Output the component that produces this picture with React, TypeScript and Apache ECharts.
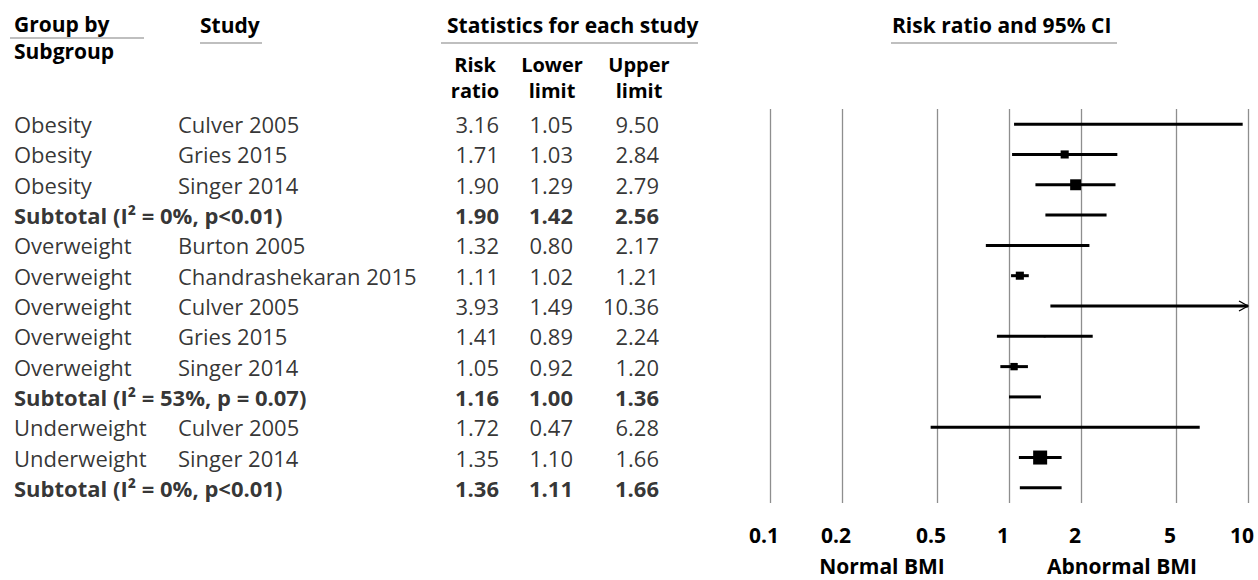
import React, { useEffect, useRef } from "react";
import * as echarts from "echarts";

const groupLabels = [
  "Obesity", "Obesity", "Obesity", "Subtotal (I² = 0%, p<0.01)",
  "Overweight", "Overweight", "Overweight", "Overweight", "Overweight", "Subtotal (I² = 53%, p = 0.07)",
  "Underweight", "Underweight", "Subtotal (I² = 0%, p<0.01)",
];
const studyLabels = [
  "Culver 2005", "Gries 2015", "Singer 2014", "",
  "Burton 2005", "Chandrashekaran 2015", "Culver 2005", "Gries 2015", "Singer 2014", "",
  "Culver 2005", "Singer 2014", "",
];
const subtotalRows = [false, false, false, true, false, false, false, false, false, true, false, false, true];
const riskRatio = [3.16, 1.71, 1.90, 1.90, 1.32, 1.11, 3.93, 1.41, 1.05, 1.16, 1.72, 1.35, 1.36];
const lowerLimit = [1.05, 1.03, 1.29, 1.42, 0.80, 1.02, 1.49, 0.89, 0.92, 1.00, 0.47, 1.10, 1.11];
const upperLimit = [9.50, 2.84, 2.79, 2.56, 2.17, 1.21, 10.36, 2.24, 1.20, 1.36, 6.28, 1.66, 1.66];
// relative study weights (drive marker size); subtotals have no marker
const studyWeight = [0.2, 6, 11, 0, 0.3, 6, 0.1, 0.4, 5, 0, 0.1, 18, 0];
const xTickValues = [0.1, 0.2, 0.5, 1, 2, 5, 10];
const favourLabels = ["Normal BMI", "Abnormal BMI"];
const headerTexts = ["Group by", "Subgroup", "Study", "Statistics for each study", "Risk ratio and 95% CI"];
const statHeaders = ["Risk\nratio", "Lower\nlimit", "Upper\nlimit"];

const FONT = "'Open Sans', sans-serif";
const FS = 22;
const HFS = 21;

export default function App() {
  const ref = useRef<HTMLDivElement>(null);
  useEffect(() => {
    const chart = echarts.init(ref.current!, null, { renderer: "svg" });
    const rows = riskRatio.map((_, i) => String(i));
    const xMin = xTickValues[0];
    const xMax = xTickValues[xTickValues.length - 1];
    const gridTop = 109;
    const gridHeight = 394;

    const fmt = (v: number) => v.toFixed(2);
    const tableCols: { x: number; pos: "left" | "right"; text: (i: number) => string }[] = [
      { x: 14, pos: "right", text: (i) => groupLabels[i] },
      { x: 178, pos: "right", text: (i) => studyLabels[i] },
      { x: 499, pos: "left", text: (i) => fmt(riskRatio[i]) },
      { x: 573, pos: "left", text: (i) => fmt(lowerLimit[i]) },
      { x: 659, pos: "left", text: (i) => fmt(upperLimit[i]) },
    ];

    const tableSeries = tableCols.map((c) => ({
      type: "scatter",
      xAxisIndex: 1,
      yAxisIndex: 1,
      silent: true,
      symbolSize: 0.01,
      itemStyle: { color: "rgba(0,0,0,0)" },
      data: rows
        .map((_, i) => ({
          value: [c.x, i],
          name: c.text(i),
          label: { fontWeight: subtotalRows[i] ? "bold" : "normal" },
        }))
        .filter((d) => d.name !== ""),
      label: {
        show: true,
        position: c.pos,
        distance: 0,
        color: "#000",
        fontFamily: FONT,
        fontSize: FS,
        formatter: (p: any) => p.name,
      },
    }));

    const headerStyle = { fill: "#000", font: `bold ${HFS}px ${FONT}` };
    const uline = (x1: number, x2: number, y: number) => ({
      type: "line",
      shape: { x1, y1: y, x2, y2: y },
      style: { stroke: "#aaa", lineWidth: 1.5 },
    });

    const graphics: any[] = [
      { type: "text", x: 14, y: 24, style: { ...headerStyle, text: headerTexts[0], verticalAlign: "middle" } },
      { type: "text", x: 14, y: 51, style: { ...headerStyle, text: headerTexts[1], verticalAlign: "middle" } },
      uline(10, 144, 38),
      { type: "text", x: 200, y: 25, style: { ...headerStyle, text: headerTexts[2], verticalAlign: "middle" } },
      uline(200, 262, 43),
      { type: "text", x: 447, y: 25, style: { ...headerStyle, text: headerTexts[3], verticalAlign: "middle" } },
      uline(441, 698, 43),
      { type: "text", x: 892, y: 25, style: { ...headerStyle, text: headerTexts[4], verticalAlign: "middle" } },
      uline(891, 1117, 43),
    ];
    const statCenters = [475, 552, 639];
    statHeaders.forEach((t, k) => {
      graphics.push({
        type: "text",
        x: statCenters[k],
        y: 77,
        style: {
          fill: "#000",
          font: `bold 20px ${FONT}`,
          text: t,
          align: "center",
          verticalAlign: "middle",
          lineHeight: 26,
        },
      });
    });
    const favourCenters = [882, 1122];
    favourLabels.forEach((t, k) => {
      graphics.push({
        type: "text",
        x: favourCenters[k],
        y: 566,
        style: { ...headerStyle, text: t, align: "center", verticalAlign: "middle" },
      });
    });

    chart.setOption({
      animation: false,
      backgroundColor: "#fff",
      grid: [
        { left: 770, right: 10, top: gridTop, height: gridHeight },
        { left: 0, width: 740, top: gridTop, height: gridHeight },
      ],
      xAxis: [
        {
          type: "log",
          gridIndex: 0,
          logBase: 10,
          min: xMin,
          max: xMax,
          axisLine: { show: false },
          axisTick: { show: false, customValues: xTickValues },
          splitLine: { show: true, lineStyle: { color: "#8e8e8e", width: 1.3 } },
          axisLabel: {
            customValues: xTickValues,
            formatter: (v: number) => String(+v.toPrecision(3)),
            color: "#000",
            fontFamily: FONT,
            fontWeight: "bold",
            fontSize: HFS,
            margin: 21,
            padding: [0, 12, 0, 0],
          },
        },
        { type: "value", gridIndex: 1, min: 0, max: 740, show: false },
      ],
      yAxis: [
        { type: "category", gridIndex: 0, data: rows, inverse: true, show: false },
        { type: "category", gridIndex: 1, data: rows, inverse: true, show: false },
      ],
      graphic: graphics,
      series: [
        ...tableSeries,
        {
          type: "custom",
          xAxisIndex: 0,
          yAxisIndex: 0,
          silent: true,
          data: lowerLimit.map((lo, i) => [lo, upperLimit[i], i]),
          encode: { x: [0, 1], y: 2 },
          renderItem: (_params: any, api: any) => {
            const lo = api.value(0);
            const hi = api.value(1);
            const row = api.value(2);
            const clipped = hi > xMax;
            const p1 = api.coord([lo, row]);
            const p2 = api.coord([clipped ? xMax : hi, row]);
            const children: any[] = [
              {
                type: "line",
                shape: { x1: p1[0], y1: p1[1], x2: p2[0], y2: p2[1] },
                style: { stroke: "#000", lineWidth: 3 },
              },
            ];
            if (clipped) {
              children.push({
                type: "polyline",
                shape: { points: [[p2[0] - 9, p2[1] - 5], [p2[0], p2[1]], [p2[0] - 9, p2[1] + 5]] },
                style: { stroke: "#000", fill: "none", lineWidth: 1.3 },
              });
            }
            return { type: "group", children };
          },
        },
        {
          type: "scatter",
          xAxisIndex: 0,
          yAxisIndex: 0,
          silent: true,
          symbol: "rect",
          itemStyle: { color: "#000", opacity: 1 },
          data: riskRatio
            .map((rr, i) => ({ value: [rr, i], w: studyWeight[i] }))
            .filter((d) => d.w > 0)
            .map((d) => ({ value: d.value, symbolSize: Math.sqrt(d.w) * 3.3 })),
          z: 5,
        },
      ],
    });
    return () => chart.dispose();
  }, []);
  return (
    <div
      ref={ref}
      style={{ position: "fixed", left: 0, top: 0, width: 1258, height: 580, background: "#fff" }}
    />
  );
}
